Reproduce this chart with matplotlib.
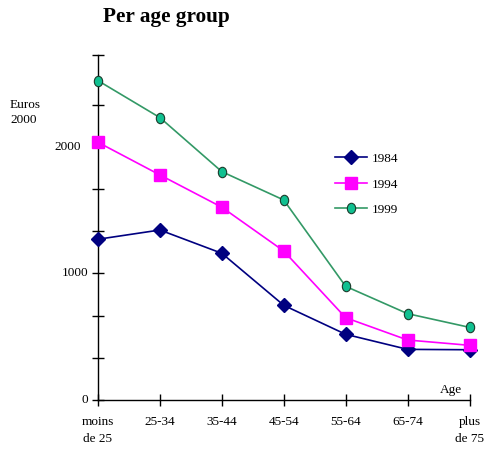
import numpy as np
import matplotlib
matplotlib.use("Agg")
import matplotlib.pyplot as plt
from matplotlib.path import Path
from matplotlib.transforms import Affine2D, ScaledTranslation

plt.rcParams['font.family'] = ['Liberation Serif', 'DejaVu Serif']

age_groups = ["moins\nde 25", "25-34", "35-44", "45-54", "55-64", "65-74", "plus\nde 75"]
v1984 = [1270, 1343, 1159, 748, 519, 400, 397]
v1994 = [2036, 1778, 1523, 1177, 650, 474, 432]
v1999 = [2523, 2231, 1804, 1580, 898, 682, 574]
y_labels = {0: '0', 1000: '1000', 2000: '2000'}

fig = plt.figure(figsize=(4.85, 4.5), dpi=100)
ax = fig.add_axes([98 / 485, 50 / 450, (469.5 - 98) / 485, (400 - 54.7) / 450])

x = np.arange(len(age_groups))
oval = Path.unit_circle().transformed(Affine2D().scale(0.8, 1.0))

ax.plot(x, v1984, color='#000080', lw=1.2, marker='D', ms=6.8,
        mfc='#000080', mec='#000080', label='1984', clip_on=False, zorder=3)
ax.plot(x, v1994, color='#FF00FF', lw=1.2, marker='s', ms=8,
        mfc='#FF00FF', mec='#FF00FF', label='1994', clip_on=False, zorder=3)
ax.plot(x, v1999, color='#339966', lw=1.2, marker=oval, ms=7.5,
        mfc='#10C090', mec='#1a3a2a', mew=0.8, label='1999', clip_on=False, zorder=3)

ymax = 2728
ax.set_xlim(0, 6)
ax.set_ylim(0, ymax)

for s in ['top', 'right']:
    ax.spines[s].set_visible(False)
for s in ['left', 'bottom']:
    ax.spines[s].set_color('black')
    ax.spines[s].set_linewidth(1.0)

yt = [i * 1000 / 3 for i in range(8)] + [ymax]
ax.set_yticks(yt)
ax.set_yticklabels([''] * len(yt))
ax.set_xticks(x)
ax.set_xticklabels([''] * len(x))
ax.tick_params(axis='both', direction='inout', length=8, width=1.0, colors='black')

# value labels on the y axis
for val, lab in y_labels.items():
    dx = -17 if val == 2000 else -10
    off = ScaledTranslation(dx / 100, 0, fig.dpi_scale_trans)
    ax.text(0, val, lab, ha='right', va='center', fontsize=9.5,
            transform=ax.get_yaxis_transform() + off)

for xi, lab in zip(x, age_groups):
    ax.text(xi, -130, lab, ha='center', va='top', fontsize=9.5,
            transform=ax.transData, linespacing=1.45)

fig.text(166 / 485, 1 - 17 / 450, 'Per age group', ha='center', va='center',
         fontsize=15.3, fontweight='bold')
fig.text(10 / 485, 1 - 99 / 450, 'Euros\n2000', ha='left', va='top', fontsize=9.5,
         linespacing=1.3)
fig.text(451 / 485, 1 - 390 / 450, 'Age', ha='center', va='center', fontsize=9.5)

ax.legend(loc='upper left', bbox_to_anchor=(323 / 485, 1 - 141 / 450),
          bbox_transform=fig.transFigure, frameon=False, fontsize=9.5,
          handlelength=2.4, handletextpad=0.4, labelspacing=1.0)

fig.savefig('out.png', dpi=100)
